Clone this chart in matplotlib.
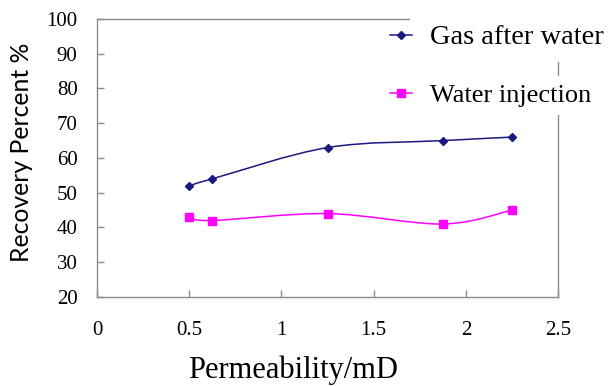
import numpy as np
import matplotlib
matplotlib.use("Agg")
import matplotlib.pyplot as plt
from matplotlib.path import Path
from matplotlib.patches import PathPatch, Rectangle

permeability = [0.5, 0.625, 1.25, 1.875, 2.25]
gas_after_water = [52, 54, 63, 65, 66]
water_injection = [43, 42, 44, 41, 45]

x_ticks = [0, 0.5, 1, 1.5, 2, 2.5]
x_tick_labels = ["0", "0.5", "1", "1.5", "2", "2.5"]
y_ticks = [20, 30, 40, 50, 60, 70, 80, 90, 100]

SERIF = "Liberation Serif"


def smooth_path(xs, ys):
    # bezier segments like a spreadsheet "smoothed line"
    pts = np.column_stack([xs, ys]).astype(float)
    n = len(pts)
    verts = [pts[0]]
    codes = [Path.MOVETO]
    for i in range(n - 1):
        p0 = pts[i - 1] if i > 0 else pts[i]
        p1 = pts[i]
        p2 = pts[i + 1]
        p3 = pts[i + 2] if i + 2 < n else pts[i + 1]
        c1 = p1 + (p2 - p0) / 6.0
        c2 = p2 - (p3 - p1) / 6.0
        verts += [c1, c2, p2]
        codes += [Path.CURVE4] * 3
    return Path(verts, codes)


fig = plt.figure(figsize=(6.12, 3.86), dpi=100)
ax = fig.add_axes([0.1585, 0.2306, 0.7533, 0.7202])

series = [
    (gas_after_water, "#1a1a80", "D", 4, "Gas after water"),
    (water_injection, "#ff00ff", "s", 5.5, "Water injection"),
]
for vals, color, marker, ms, label in series:
    ax.add_patch(PathPatch(smooth_path(permeability, vals), facecolor="none",
                           edgecolor=color, lw=1.1, zorder=2))
    ax.plot(permeability, vals, linestyle="none", marker=marker, ms=ms,
            color=color, zorder=3)

ax.set_xlim(0, 2.5)
ax.set_ylim(20, 100)
ax.set_xticks(x_ticks)
ax.set_xticklabels(x_tick_labels)
ax.set_yticks(y_ticks)
for side in ["left", "bottom", "right", "top"]:
    ax.spines[side].set_color("#8c8c8c")
    ax.spines[side].set_linewidth(1.0)
ax.tick_params(direction="in", length=5, color="#8c8c8c", width=1.0)
ax.tick_params(axis="y", pad=14)
ax.tick_params(axis="x", pad=17)
for lbl in ax.get_xticklabels() + ax.get_yticklabels():
    lbl.set_fontfamily(SERIF)
    lbl.set_fontsize(15)

ax.set_xlabel("Permeability/mD", fontfamily=SERIF, fontsize=22)
ax.xaxis.set_label_coords(0.425, -0.21)
ax.set_ylabel("Recovery Percent %", fontfamily="Lato", fontsize=17.8)
ax.yaxis.set_label_coords(-0.139, 0.52)

# white box over the top right corner where the legend sits
fig.patches.append(Rectangle((410 / 612, 1 - 62 / 386), 1, 1,
                             transform=fig.transFigure, facecolor="white",
                             edgecolor="none", zorder=1))

handles = [
    plt.Line2D([], [], color=c, marker=m, ms=ms, lw=1.1)
    for vals, c, m, ms, lab in series
]
leg = fig.legend(handles, [s[4] for s in series], loc="upper left",
                 bbox_to_anchor=(0.625, 0.955), frameon=False,
                 prop={"family": SERIF, "size": 19}, handlelength=0.8,
                 handletextpad=0.7, labelspacing=1.25, borderpad=0.3,
                 borderaxespad=0.0)
leg.get_texts()[0].set_fontsize(20.5)
leg.get_texts()[1].set_bbox(dict(facecolor="white", edgecolor="none", pad=6))

fig.savefig("out.png", dpi=100)
